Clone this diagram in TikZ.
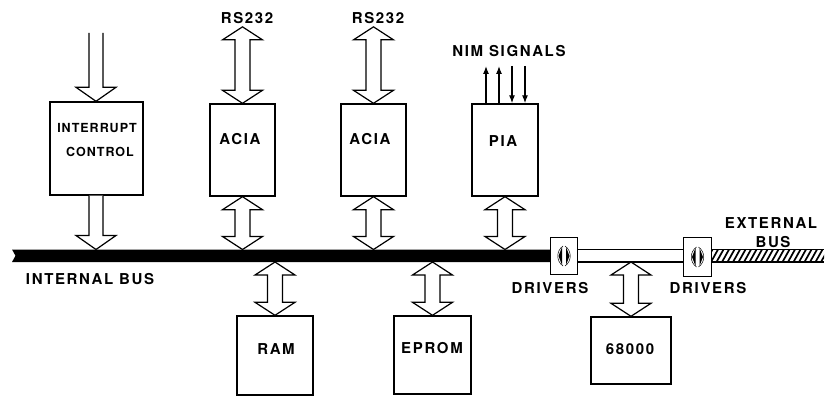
\documentclass[tikz,border=0pt]{standalone}
\usepackage{fontspec}
\setmainfont{TeX Gyre Heros}
\newfontfamily\spacedfont{TeX Gyre Heros}[LetterSpace=11]
\newfontfamily\tightfont{TeX Gyre Heros}[LetterSpace=8]
\usetikzlibrary{calc,arrows.meta}
\newcommand\DArrow[2]{%
  \path[blockarrow] let \p1=(#1), \p2=(#2) in
    (\x1,\y1) -- (\x1+20pt,\y1-13pt) -- (\x1+7.5pt,\y1-13pt) -- (\x1+7.5pt,\y2+13pt)
    -- (\x1+20pt,\y2+13pt) -- (\x1,\y2) -- (\x1-20pt,\y2+13pt) -- (\x1-7.5pt,\y2+13pt)
    -- (\x1-7.5pt,\y1-13pt) -- (\x1-20pt,\y1-13pt) -- cycle;}
\newcommand\SArrow[2]{%
  \path[blockarrow] let \p1=(#1), \p2=(#2) in
    (\x1-7pt,\y1) -- (\x1-7pt,\y2+14pt) -- (\x1-20pt,\y2+14pt) -- (\x1,\y2)
    -- (\x1+20pt,\y2+14pt) -- (\x1+7pt,\y2+14pt) -- (\x1+7pt,\y1);}
\newcommand\DrvSym[1]{%
  \fill let \p1=(#1) in
    (\x1-2pt,\y1+9pt) .. controls (\x1-4pt,\y1+4pt) .. (\x1-5.5pt,\y1)
    .. controls (\x1-4pt,\y1-4pt) .. (\x1-2pt,\y1-9pt) -- cycle
    (\x1+2pt,\y1+9pt) .. controls (\x1+4pt,\y1+4pt) .. (\x1+5.5pt,\y1)
    .. controls (\x1+4pt,\y1-4pt) .. (\x1+2pt,\y1-9pt) -- cycle;
  \draw[line width=0.5pt] let \p1=(#1) in
    (\x1-1pt,\y1+10pt) .. controls (\x1-8pt,\y1+5pt) and (\x1-8pt,\y1-5pt) .. (\x1-1pt,\y1-10pt)
    (\x1+1pt,\y1+10pt) .. controls (\x1+8pt,\y1+5pt) and (\x1+8pt,\y1-5pt) .. (\x1+1pt,\y1-10pt);}
\begin{document}
\begin{tikzpicture}[x=1pt,y=-1pt,
  box/.style={draw,line width=1.4pt,inner sep=0pt},
  lbl/.style={font=\spacedfont\bfseries\fontsize{15}{17}\selectfont,inner sep=0pt},
  smlbl/.style={font=\tightfont\bfseries\fontsize{12.5}{14}\selectfont,inner sep=0pt},
  blockarrow/.style={draw,line width=1.2pt,fill=white,line join=miter},
  nim/.style={line width=1.2pt,-{Latex[length=8pt,width=6pt]}},
  busline/.style={line width=1.3pt}]
\useasboundingbox (0,0) rectangle (827,396);
% boxes
\node[box,minimum width=93pt,minimum height=93pt] (int) at (96.5,148.5) {};
\node[box,minimum width=65pt,minimum height=92pt] (acia1) at (242.5,150) {};
\node[box,minimum width=65pt,minimum height=92pt] (acia2) at (373.5,150) {};
\node[box,minimum width=66pt,minimum height=92pt] (pia) at (505,150) {};
\node[box,minimum width=76pt,minimum height=79pt] (ram) at (275,355.5) {};
\node[box,minimum width=77pt,minimum height=78pt] (eprom) at (432.5,355) {};
\node[box,minimum width=80pt,minimum height=67pt] (cpu) at (631,350.5) {};
\node[box,minimum width=26pt,minimum height=36pt] (drv1) at (564,256) {};
\node[box,minimum width=27pt,minimum height=38pt] (drv2) at (697.5,257) {};
% labels
\node[smlbl] (intl1) at (97,128) {INTERRUPT};
\node[smlbl] (intl2) at (100,152) {CONTROL};
\node[lbl] (acial1) at (240,139.5) {ACIA};
\node[lbl] (acial2) at (370,139.5) {ACIA};
\node[lbl] (pial) at (503,141) {PIA};
\node[lbl] (raml) at (276,349) {RAM};
\node[lbl] (epromL) at (432,348) {EPROM};
\node[lbl] (cpul) at (630,349) {68000};
\node[lbl] (rs1) at (247,18) {RS232};
\node[lbl] (rs2) at (378,18) {RS232};
\node[lbl] (niml) at (509,51) {NIM SIGNALS};
\node[lbl] (ibus) at (90,279) {INTERNAL BUS};
\node[lbl] (drvl1) at (550,288) {DRIVERS};
\node[lbl] (drvl2) at (708,288) {DRIVERS};
\node[lbl] (ext1) at (771,223) {EXTERNAL};
\node[lbl] (ext2) at (773,242) {BUS};
% bus coordinates
\coordinate (busT) at (0,249.5);
\coordinate (busB) at (0,262);
\coordinate (busL) at (12,0);
\coordinate (busR) at (824,0);
\coordinate (intin) at (96,33);
\coordinate (nimtop) at (0,66);
% internal bus
\fill (busL|-busT) -- (drv1.west|-busT) -- (drv1.west|-busB) -- (busL|-busB)
  -- ($(busL|-busT)!0.5!(busL|-busB)+(3.5,0)$) -- cycle;
% link bus
\draw[busline,fill=white] (drv1.east|-busT) rectangle (drv2.west|-busB);
% external bus
\begin{scope}
  \clip (drv2.east|-busT) rectangle (busR|-busB);
  \foreach \i in {700,705.5,...,840} \draw[line width=1.7pt] (\i,262) -- (\i+7,249.5);
\end{scope}
\draw[busline] (drv2.east|-busT) -- (busR|-busT) (drv2.east|-busB) -- (busR|-busB);
% driver boxes redrawn on top
\draw[box,fill=white] (drv1.south west) rectangle (drv1.north east);
\draw[box,fill=white] (drv2.south west) rectangle (drv2.north east);
\DrvSym{drv1.center}
\DrvSym{drv2.center}
% interrupt arrows
\SArrow{intin}{int.north-|intin}
\SArrow{int.south-|intin}{int.south|-busT}
% RS232 arrows
\DArrow{$(acia1.north|-rs1.south)+(0,3)$}{acia1.north}
\DArrow{$(acia2.north|-rs2.south)+(0,3)$}{acia2.north}
% bus connections
\DArrow{acia1.south}{acia1.south|-busT}
\DArrow{acia2.south}{acia2.south|-busT}
\DArrow{pia.south}{pia.south|-busT}
\DArrow{ram.north|-busB}{ram.north}
\DArrow{eprom.north|-busB}{eprom.north}
\DArrow{cpu.north|-busB}{cpu.north}
% NIM signals
\draw[nim] ([xshift=-19pt]pia.north) -- ([xshift=-19pt]pia.north|-nimtop);
\draw[nim] ([xshift=-6pt]pia.north) -- ([xshift=-6pt]pia.north|-nimtop);
\draw[nim] ([xshift=7pt]pia.north|-nimtop) -- ([xshift=7pt]pia.north);
\draw[nim] ([xshift=20pt]pia.north|-nimtop) -- ([xshift=20pt]pia.north);
\end{tikzpicture}
\end{document}
